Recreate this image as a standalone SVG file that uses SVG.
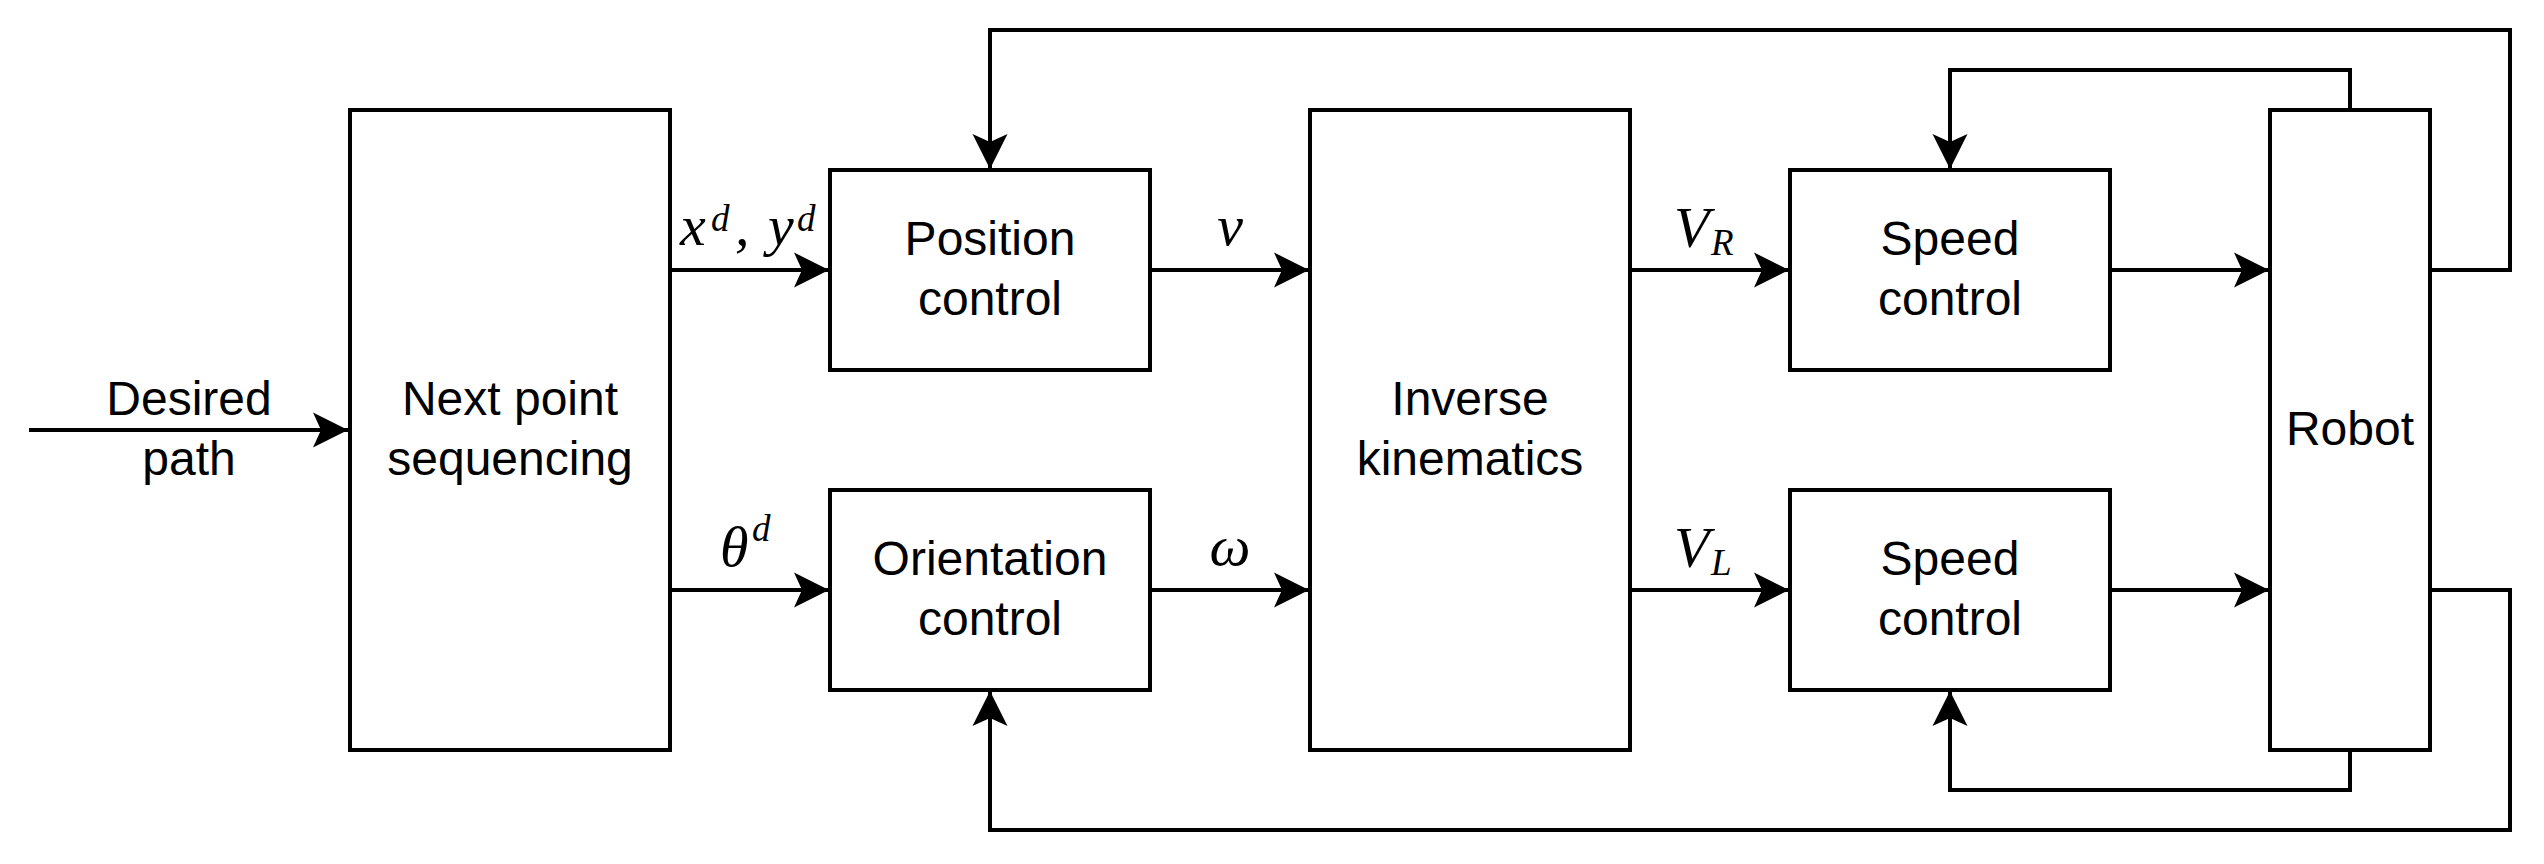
<svg xmlns="http://www.w3.org/2000/svg" width="2544" height="864" viewBox="0 0 2544 864">
<style>
.box{fill:#fff;stroke:#000;stroke-width:4}
.lbl{font-family:"Liberation Sans",Arial,sans-serif;font-size:48px;fill:#000;text-anchor:middle}
.m{font-family:"Liberation Serif","Times New Roman",serif;font-style:italic;font-size:58px;fill:#000}
.ms{font-family:"Liberation Serif","Times New Roman",serif;font-style:italic;font-size:37px;fill:#000}
.c{fill:none;stroke:#000;stroke-width:4;marker-end:url(#arr)}
</style>
<defs>
<marker id="arr" markerUnits="userSpaceOnUse" viewBox="-36 -18 37 36" refX="0" refY="0" markerWidth="37" markerHeight="36" orient="auto">
<path d="M0,0 L-35,-17.5 L-27,0 L-35,17.5 Z" fill="#000"/>
</marker>
</defs>
<rect width="2544" height="864" fill="#fff"/>
<g id="connectors">
<path class="c" d="M29,430 H348"/>
<path class="c" d="M670,270 H829"/>
<path class="c" d="M670,590 H829"/>
<path class="c" d="M1150,270 H1309"/>
<path class="c" d="M1150,590 H1309"/>
<path class="c" d="M1630,270 H1789"/>
<path class="c" d="M1630,590 H1789"/>
<path class="c" d="M2110,270 H2269"/>
<path class="c" d="M2110,590 H2269"/>
<path class="c" d="M2430,270 H2510 V30 H990 V169"/>
<path class="c" d="M2350,110 V70 H1950 V169"/>
<path class="c" d="M2350,750 V790 H1950 V691"/>
<path class="c" d="M2430,590 H2510 V830 H990 V691"/>
</g>
<g id="edge-labels">
<text class="lbl" x="189" y="415">Desired</text>
<text class="lbl" x="189" y="475">path</text>
<text class="m" x="680" y="245">x</text>
<text class="ms" x="711" y="231">d</text>
<text class="m" x="735" y="245">,</text>
<text class="m" x="768" y="245">y</text>
<text class="ms" x="797" y="231">d</text>
<text class="m" x="720" y="566">θ</text>
<text class="ms" x="752" y="541">d</text>
<text class="m" x="1230" y="245" text-anchor="middle">v</text>
<text class="m" x="1230" y="565" text-anchor="middle">ω</text>
<text class="m" x="1674" y="247" font-size="60">V</text>
<text class="ms" x="1711" y="255">R</text>
<text class="m" x="1674" y="567" font-size="60">V</text>
<text class="ms" x="1711" y="575">L</text>
</g>
<g id="next-point">
<rect class="box" x="350" y="110" width="320" height="640"/>
<text class="lbl" x="510" y="415">Next point</text>
<text class="lbl" x="510" y="475">sequencing</text>
</g>
<g id="position-control">
<rect class="box" x="830" y="170" width="320" height="200"/>
<text class="lbl" x="990" y="255">Position</text>
<text class="lbl" x="990" y="315">control</text>
</g>
<g id="orientation-control">
<rect class="box" x="830" y="490" width="320" height="200"/>
<text class="lbl" x="990" y="575">Orientation</text>
<text class="lbl" x="990" y="635">control</text>
</g>
<g id="inverse-kinematics">
<rect class="box" x="1310" y="110" width="320" height="640"/>
<text class="lbl" x="1470" y="415">Inverse</text>
<text class="lbl" x="1470" y="475">kinematics</text>
</g>
<g id="speed-control-r">
<rect class="box" x="1790" y="170" width="320" height="200"/>
<text class="lbl" x="1950" y="255">Speed</text>
<text class="lbl" x="1950" y="315">control</text>
</g>
<g id="speed-control-l">
<rect class="box" x="1790" y="490" width="320" height="200"/>
<text class="lbl" x="1950" y="575">Speed</text>
<text class="lbl" x="1950" y="635">control</text>
</g>
<g id="robot">
<rect class="box" x="2270" y="110" width="160" height="640"/>
<text class="lbl" x="2350" y="445">Robot</text>
</g>
</svg>
